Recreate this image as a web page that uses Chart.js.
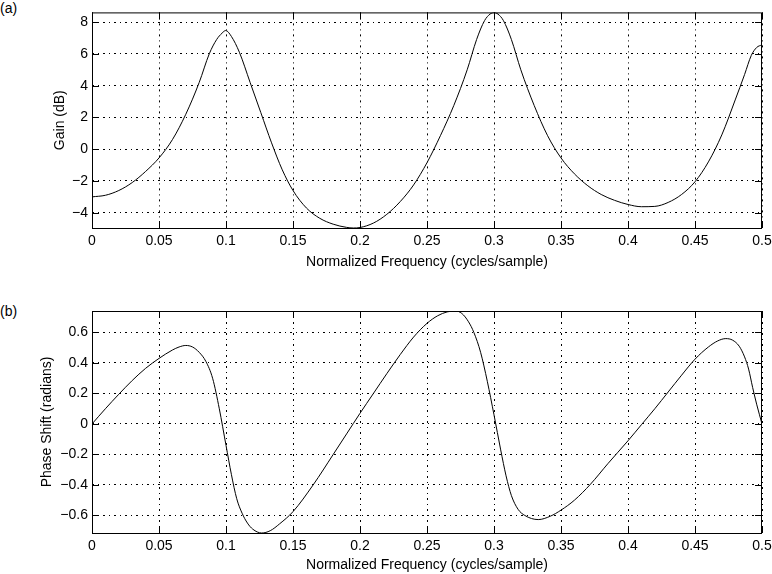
<!DOCTYPE html>
<html>
<head>
<meta charset="utf-8">
<script src="https://cdn.jsdelivr.net/npm/chart.js"></script>
<style>
  body { margin: 0; background: #fff; width: 772px; height: 574px; position: relative; overflow: hidden; font-family: "Liberation Sans", Arial, sans-serif; }
  .tag { position: absolute; left: 0; font-size: 14px; color: #000; line-height: 14px; }
  #gainBox { position: absolute; left: 0; top: 0; }
  #phaseBox { position: absolute; left: 0; top: 290px; }
</style>
</head>
<body>
<div class="tag" style="top:1px">(a)</div>
<div class="tag" style="top:304px">(b)</div>
<canvas id="gainBox" width="790" height="290"></canvas>
<canvas id="phaseBox" width="790" height="284"></canvas>
<script>
// frequency axis (shared)
const freqTicks = [0, 0.05, 0.1, 0.15, 0.2, 0.25, 0.3, 0.35, 0.4, 0.45, 0.5];
const freqTickLabels = ["0", "0.05", "0.1", "0.15", "0.2", "0.25", "0.3", "0.35", "0.4", "0.45", "0.5"];

// (a) gain in dB
const gainFreq = [0, 0.01, 0.02, 0.03, 0.04, 0.05, 0.06, 0.07, 0.08, 0.0875, 0.093, 0.097, 0.0998,
  0.104, 0.11, 0.118, 0.126, 0.134, 0.142, 0.15, 0.16, 0.17, 0.18, 0.19, 0.195, 0.2,
  0.21, 0.22, 0.23, 0.24, 0.25, 0.26, 0.27, 0.28, 0.287, 0.293, 0.297, 0.3,
  0.303, 0.307, 0.313, 0.32, 0.33, 0.34, 0.35, 0.36, 0.37, 0.38, 0.39, 0.4, 0.41,
  0.42, 0.43, 0.44, 0.45, 0.46, 0.47, 0.48, 0.487, 0.492, 0.496, 0.5];
const gainDb = [-3.0, -2.9, -2.6, -2.1, -1.4, -0.55, 0.6, 2.2, 4.2, 6.0, 6.9, 7.3, 7.47,
  7.1, 6.1, 4.2, 2.3, 0.4, -1.3, -2.6, -3.7, -4.35, -4.72, -4.92, -4.96, -4.93,
  -4.65, -4.1, -3.3, -2.25, -0.85, 0.85, 2.75, 5.0, 6.9, 8.1, 8.5, 8.6,
  8.5, 8.1, 6.9, 5.0, 2.75, 0.85, -0.55, -1.55, -2.3, -2.85, -3.22, -3.48, -3.62,
  -3.6, -3.35, -2.85, -2.05, -0.8, 0.9, 3.1, 4.7, 5.9, 6.4, 6.57];
const gainTicks = [-4, -2, 0, 2, 4, 6, 8];
const gainTickLabels = ["\u22124", "\u22122", "0", "2", "4", "6", "8"];

// (b) phase shift in radians
const phaseFreq = [0, 0.01, 0.02, 0.03, 0.04, 0.05, 0.06, 0.065, 0.07, 0.075, 0.08, 0.085, 0.09,
  0.095, 0.1, 0.104, 0.108, 0.112, 0.116, 0.12, 0.1266, 0.133, 0.14, 0.15, 0.165, 0.18,
  0.19, 0.2, 0.21, 0.22, 0.23, 0.24, 0.25, 0.258, 0.265, 0.271, 0.276, 0.281, 0.285,
  0.29, 0.295, 0.3, 0.305, 0.309, 0.313, 0.318, 0.323, 0.333, 0.342, 0.35, 0.36, 0.372,
  0.385, 0.4, 0.41, 0.42, 0.43, 0.44, 0.45, 0.46, 0.467, 0.473, 0.478, 0.483, 0.487,
  0.49, 0.493, 0.496, 0.5];
const phaseRad = [0, 0.1, 0.195, 0.285, 0.365, 0.43, 0.485, 0.505, 0.515, 0.505, 0.47, 0.41, 0.3,
  0.1, -0.14, -0.33, -0.49, -0.585, -0.65, -0.69, -0.715, -0.70, -0.655, -0.575, -0.4, -0.2,
  -0.065, 0.07, 0.2, 0.33, 0.455, 0.57, 0.66, 0.71, 0.735, 0.742, 0.725, 0.67, 0.6,
  0.47, 0.28, 0.06, -0.17, -0.34, -0.47, -0.56, -0.6, -0.627, -0.605, -0.565, -0.5, -0.395,
  -0.26, -0.11, -0.005, 0.1, 0.21, 0.32, 0.425, 0.505, 0.545, 0.56, 0.55, 0.51, 0.44,
  0.36, 0.24, 0.13, 0.0];
const phaseTicks = [-0.6, -0.4, -0.2, 0, 0.2, 0.4, 0.6];
const phaseTickLabels = ["\u22120.6", "\u22120.4", "\u22120.2", "0", "0.2", "0.4", "0.6"];

const FONT = { family: '"Liberation Sans", Arial, sans-serif', size: 14 };
const TICK = 7;

// box round the axes + inward tick marks, like matlab
const frameTicks = {
  id: "frameTicks",
  afterDatasetsDraw(chart) {
    const { ctx, chartArea: a, scales } = chart;
    ctx.save();
    ctx.strokeStyle = "#000";
    ctx.lineWidth = 1;
    ctx.setLineDash([]);
    ctx.beginPath();
    scales.x.ticks.forEach(t => {
      const px = Math.round(scales.x.getPixelForValue(t.value)) + 0.5;
      ctx.moveTo(px, a.bottom); ctx.lineTo(px, a.bottom - TICK);
      ctx.moveTo(px, a.top); ctx.lineTo(px, a.top + TICK);
    });
    scales.y.ticks.forEach(t => {
      const py = Math.round(scales.y.getPixelForValue(t.value)) + 0.5;
      ctx.moveTo(a.left, py); ctx.lineTo(a.left + TICK, py);
      ctx.moveTo(a.right, py); ctx.lineTo(a.right - TICK, py);
    });
    ctx.stroke();
    ctx.strokeRect(a.left + 0.5, a.top + 0.5, a.right - a.left - 1, a.bottom - a.top);
    ctx.restore();
  }
};

function makePlot(canvasId, xs, ys, yMin, yMax, yTicks, yLabels, yTitle, pad, yWidth, xHeight, xTitlePad) {
  const ctx = document.getElementById(canvasId).getContext("2d");
  return new Chart(ctx, {
    type: "line",
    data: {
      datasets: [{
        data: xs.map((x, i) => ({ x: x, y: ys[i] })),
        borderColor: "#000",
        borderWidth: 1,
        pointRadius: 0,
        fill: false,
        cubicInterpolationMode: "monotone"
      }]
    },
    options: {
      responsive: false,
      animation: false,
      devicePixelRatio: 1,
      layout: { padding: pad },
      plugins: { legend: { display: false }, tooltip: { enabled: false } },
      scales: {
        x: {
          type: "linear",
          min: 0,
          max: 0.5,
          afterBuildTicks: s => { s.ticks = freqTicks.map(v => ({ value: v })); },
          afterFit: s => { s.height = xHeight; },
          ticks: {
            color: "#000", font: FONT, padding: 5, maxRotation: 0, autoSkip: false,
            callback: (v, i) => freqTickLabels[i]
          },
          grid: { color: "#000", lineWidth: 1, drawTicks: false },
          border: { display: false, dash: [2, 4, 1, 4] },
          title: {
            display: true, text: "Normalized Frequency (cycles/sample)", color: "#000", font: FONT,
            padding: { top: 0, bottom: xTitlePad }
          }
        },
        y: {
          min: yMin,
          max: yMax,
          afterBuildTicks: s => { s.ticks = yTicks.map(v => ({ value: v })); },
          afterFit: s => { s.width = yWidth; },
          ticks: {
            color: "#000", font: FONT, padding: 4, autoSkip: false,
            callback: (v, i) => yLabels[i]
          },
          grid: { color: "#000", lineWidth: 1, drawTicks: false },
          border: { display: false, dash: [2, 4, 1, 4] },
          title: {
            display: true, text: yTitle, color: "#000", font: FONT,
            padding: { top: 0, bottom: 0 }
          }
        }
      }
    },
    plugins: [frameTicks]
  });
}

// 📈 (a) gain
makePlot("gainBox", gainFreq, gainDb, -4.96, 8.61, gainTicks, gainTickLabels, "Gain (dB)",
  { top: 5, left: 52, right: 28, bottom: 0 }, 40, 62, 19);

// 📉 (b) phase
makePlot("phaseBox", phaseFreq, phaseRad, -0.715, 0.741, phaseTicks, phaseTickLabels, "Phase Shift (radians)",
  { top: 21, left: 39, right: 28, bottom: 0 }, 53, 41, 0);
</script>
</body>
</html>
